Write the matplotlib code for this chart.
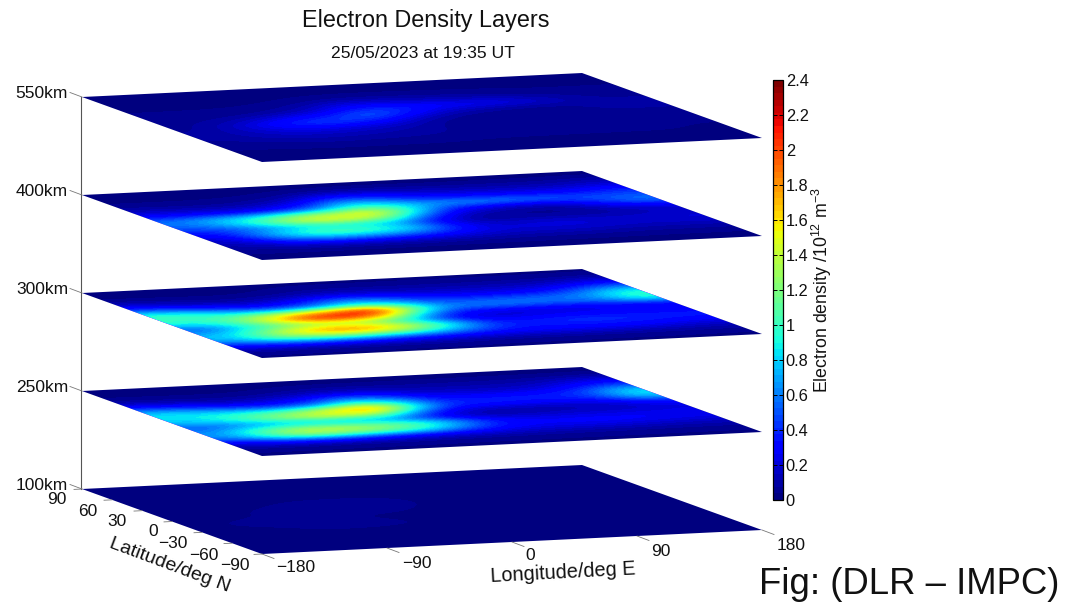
import numpy as np
import matplotlib
matplotlib.use('Agg')
import matplotlib.pyplot as plt
from matplotlib.transforms import Affine2D

plt.rcParams['font.family'] = ['Liberation Sans', 'DejaVu Sans']
plt.rcParams['mathtext.default'] = 'regular'

title = 'Electron Density Layers'
subtitle = '25/05/2023 at 19:35 UT'
layer_names = ['550km', '400km', '300km', '250km', '100km']
lat_ticks = [90, 60, 30, 0, -30, -60, -90]
lon_ticks = [-180, -90, 0, 90, 180]
cbar_ticks = [0, 0.2, 0.4, 0.6, 0.8, 1, 1.2, 1.4, 1.6, 1.8, 2, 2.2, 2.4]

# rows: lat 90 .. -90 every 15 deg, columns: lon -180 .. 180 every 30 deg
ne_550 = [
    [.02, .02, .02, .02, .02, .02, .02, .02, .02, .02, .02, .02, .02],
    [.03, .03, .03, .03, .03, .03, .03, .03, .03, .03, .03, .03, .03],
    [.03, .03, .03, .03, .04, .07, .08, .07, .06, .05, .04, .04, .04],
    [.04, .04, .04, .05, .10, .22, .20, .16, .14, .12, .08, .06, .06],
    [.05, .05, .06, .10, .18, .38, .42, .32, .28, .24, .16, .08, .07],
    [.06, .08, .15, .28, .38, .58, .36, .16, .10, .07, .07, .10, .10],
    [.06, .14, .30, .45, .46, .36, .14, .06, .04, .04, .05, .08, .08],
    [.08, .14, .22, .26, .22, .16, .07, .04, .04, .05, .05, .05, .05],
    [.08, .12, .15, .15, .13, .10, .07, .05, .05, .06, .06, .05, .05],
    [.06, .08, .10, .10, .09, .08, .07, .05, .05, .05, .05, .05, .04],
    [.04, .04, .05, .05, .05, .05, .04, .04, .04, .04, .04, .04, .03],
    [.03, .03, .03, .03, .03, .03, .03, .03, .03, .03, .03, .03, .03],
    [.02, .02, .02, .02, .02, .02, .02, .02, .02, .02, .02, .02, .02],
]
ne_400 = [
    [.02, .02, .02, .02, .02, .02, .02, .02, .02, .02, .02, .02, .02],
    [.03, .03, .03, .03, .05, .08, .10, .10, .08, .08, .08, .08, .10],
    [.05, .05, .05, .07, .12, .32, .32, .20, .18, .15, .15, .15, .20],
    [.15, .12, .12, .15, .30, .70, .60, .40, .35, .32, .30, .30, .38],
    [.30, .30, .30, .35, .60, 1.05, .95, .68, .68, .62, .55, .48, .50],
    [.60, .75, .90, 1.25, 1.4, 1.62, 1.05, .40, .22, .16, .20, .42, .60],
    [.55, .75, 1.1, 1.45, 1.5, 1.32, .60, .16, .08, .05, .07, .18, .25],
    [.40, .50, .70, .85, .85, .70, .28, .07, .07, .08, .08, .10, .15],
    [.25, .60, .95, 1.12, 1.05, .85, .40, .16, .20, .20, .18, .18, .20],
    [.15, .42, .65, .70, .65, .52, .30, .20, .20, .20, .18, .16, .18],
    [.10, .15, .22, .22, .20, .18, .15, .12, .12, .12, .10, .10, .10],
    [.05, .05, .05, .05, .05, .05, .05, .05, .05, .05, .05, .05, .05],
    [.02, .02, .02, .02, .02, .02, .02, .02, .02, .02, .02, .02, .02],
]
ne_300 = [
    [.02, .02, .02, .02, .03, .03, .03, .03, .03, .03, .03, .03, .03],
    [.03, .03, .03, .03, .05, .08, .08, .08, .08, .08, .08, .08, .10],
    [.14, .10, .07, .08, .12, .20, .20, .15, .15, .15, .15, .20, .30],
    [.42, .30, .20, .20, .35, .60, .50, .32, .28, .26, .28, .42, .65],
    [.95, .78, .55, .48, .62, .98, .88, .50, .50, .52, .54, .64, 1.0],
    [1.05, 1.05, 1.2, 1.55, 1.95, 2.3, 1.35, .62, .62, .60, .56, .60, .95],
    [.85, 1.0, 1.5, 2.1, 2.2, 1.8, .80, .30, .24, .24, .26, .30, .35],
    [.50, .82, 1.1, 1.25, 1.25, 1.0, .48, .18, .18, .22, .24, .24, .22],
    [.75, 1.1, 1.6, 1.9, 1.85, 1.45, .92, .40, .35, .40, .40, .38, .38],
    [.75, 1.1, 1.3, 1.35, 1.25, 1.0, .65, .40, .35, .38, .38, .36, .32],
    [.40, .52, .52, .50, .40, .35, .30, .25, .25, .25, .25, .22, .18],
    [.10, .10, .10, .10, .10, .10, .08, .08, .08, .08, .08, .08, .08],
    [.03, .03, .03, .03, .03, .03, .03, .03, .03, .03, .03, .03, .03],
]
ne_250 = [
    [.02, .02, .02, .02, .02, .02, .02, .02, .02, .02, .02, .02, .02],
    [.03, .03, .03, .03, .05, .07, .07, .07, .07, .07, .07, .07, .08],
    [.10, .08, .07, .08, .12, .18, .18, .12, .12, .12, .12, .18, .25],
    [.34, .26, .18, .20, .30, .55, .45, .25, .20, .18, .20, .30, .50],
    [.78, .66, .52, .45, .60, 1.05, .85, .38, .34, .36, .36, .48, .85],
    [.88, .92, 1.05, 1.2, 1.55, 1.95, 1.1, .42, .38, .36, .34, .42, .82],
    [.75, .90, 1.15, 1.4, 1.5, 1.3, .55, .18, .14, .14, .16, .20, .35],
    [.50, .62, .72, .75, .70, .60, .28, .10, .10, .12, .14, .14, .20],
    [.65, 1.05, 1.35, 1.35, 1.25, 1.1, .75, .35, .25, .25, .25, .25, .25],
    [.65, 1.05, 1.35, 1.3, 1.2, 1.0, .62, .35, .28, .30, .30, .28, .25],
    [.25, .42, .45, .42, .35, .30, .25, .20, .18, .18, .18, .15, .15],
    [.07, .07, .07, .07, .07, .07, .07, .07, .07, .07, .07, .07, .07],
    [.03, .03, .03, .03, .03, .03, .03, .03, .03, .03, .03, .03, .03],
]
ne_100 = [
    [.01, .01, .01, .01, .01, .01, .01, .01, .01, .01, .01, .01, .01],
    [.01, .01, .01, .01, .01, .01, .01, .01, .01, .01, .01, .01, .01],
    [.01, .01, .01, .02, .02, .02, .02, .02, .01, .01, .01, .01, .01],
    [.01, .02, .02, .03, .03, .03, .03, .02, .02, .02, .01, .01, .01],
    [.02, .02, .03, .04, .05, .05, .04, .03, .02, .02, .02, .01, .01],
    [.02, .03, .04, .05, .08, .08, .04, .03, .02, .02, .02, .02, .01],
    [.02, .03, .04, .05, .04, .04, .03, .02, .02, .02, .02, .02, .01],
    [.03, .05, .06, .05, .04, .03, .03, .02, .02, .02, .02, .02, .01],
    [.02, .03, .04, .06, .05, .04, .03, .02, .02, .02, .02, .01, .01],
    [.02, .02, .03, .03, .03, .03, .02, .02, .02, .02, .01, .01, .01],
    [.01, .02, .02, .02, .02, .02, .02, .01, .01, .01, .01, .01, .01],
    [.01, .01, .01, .01, .01, .01, .01, .01, .01, .01, .01, .01, .01],
    [.01, .01, .01, .01, .01, .01, .01, .01, .01, .01, .01, .01, .01],
]
layers = [ne_550, ne_400, ne_300, ne_250, ne_100]
layer_y = [97, 195, 293, 391, 489]

# plane in pixels: left corner, full longitude vector, full latitude vector
x0 = 82
lon_vec = (500, -24)
lat_vec = (180, 65)


def plane(y0):
    a = lon_vec[0] / 360
    b = -lat_vec[0] / 180
    c = x0 + 180 * a + 90 * (-b)
    d = lon_vec[1] / 360
    e = -lat_vec[1] / 180
    f = y0 + 180 * d + 90 * (-e)
    return Affine2D.from_values(a, d, b, e, c, f)


def to_px(lon, lat, y0):
    return plane(y0).transform((lon, lat))


fig = plt.figure(figsize=(10.66, 6.03), dpi=100)
ax = fig.add_axes([0, 0, 1, 1])
cmap = plt.get_cmap('jet', 64)

for data, y0 in zip(layers, layer_y):
    im = ax.imshow(np.array(data), cmap=cmap, vmin=0, vmax=2.4, origin='upper',
                   extent=(-180, 180, -90, 90), aspect='auto',
                   interpolation='bicubic', interpolation_stage='data')
    im.set_transform(plane(y0) + ax.transData)

ax.set_xlim(0, 1066)
ax.set_ylim(603, 0)
ax.axis('off')

# altitude axis
ax.plot([81, 81], [layer_y[0], layer_y[-1]], color='#555555', lw=0.8)
for name, y0 in zip(layer_names, layer_y):
    ax.plot([70, 82], [y0 - 4.5, y0], color='#777777', lw=0.6)
    ax.text(68, y0 - 4, name, ha='right', va='center', fontsize=12.5, color='#111111')

# latitude ticks along the bottom plane
base = layer_y[-1]
lat_label_pos = [(57, 500), (88, 511), (117, 522), (153, 532), (173, 543), (204, 555), (235, 566)]
for lat, (tx, ty) in zip(lat_ticks, lat_label_pos):
    px, py = to_px(-180, lat, base)
    ax.plot([px, px - 8], [py, py + 0.4], color='#777777', lw=0.6)
    ax.text(tx, ty, str(lat).replace('-', '\u2212'), ha='center', va='center', fontsize=12.5, color='#111111')
ax.text(170, 565, 'Latitude/deg N', rotation=-20.5, rotation_mode='anchor',
        ha='center', va='center', fontsize=14, color='#111111')

# longitude ticks along the front edge
lon_label_pos = [(296, 568), (417, 563), (530, 555), (661, 551), (791, 545)]
for lon, (tx, ty) in zip(lon_ticks, lon_label_pos):
    px, py = to_px(lon, -90, base)
    ax.plot([px, px + 12], [py, py + 4.5], color='#777777', lw=0.6)
    ax.text(tx, ty, str(lon).replace('-', '\u2212'), ha='center', va='center', fontsize=12.5, color='#111111')
ax.text(563, 573, 'Longitude/deg E', rotation=3, rotation_mode='anchor',
        ha='center', va='center', fontsize=14.3, color='#111111')

ax.text(426, 20, title, ha='center', va='center', fontsize=16.8, color='#111111')
ax.text(423, 54, subtitle, ha='center', va='center', fontsize=12.6, color='#111111')
ax.text(759, 584, 'Fig: (DLR \u2013 IMPC)', ha='left', va='center', fontsize=26.3, color='#111111')

# colour bar
cax = fig.add_axes([773 / 1066, 1 - 500 / 603, 10 / 1066, 420 / 603])
cb = fig.colorbar(im, cax=cax)
cb.set_ticks(cbar_ticks)
cb.set_ticklabels([str(t) for t in cbar_ticks])
cax.tick_params(axis='y', which='major', direction='in', left=True, right=True,
                length=3, width=0.7, pad=2, labelsize=11.8, labelcolor='#111111')
cb.outline.set_linewidth(0.9)
cb.set_label('Electron density /10$^{12}$ m$^{-3}$', fontsize=12.8, labelpad=1, color='#111111')

fig.savefig('out.png', dpi=100)
